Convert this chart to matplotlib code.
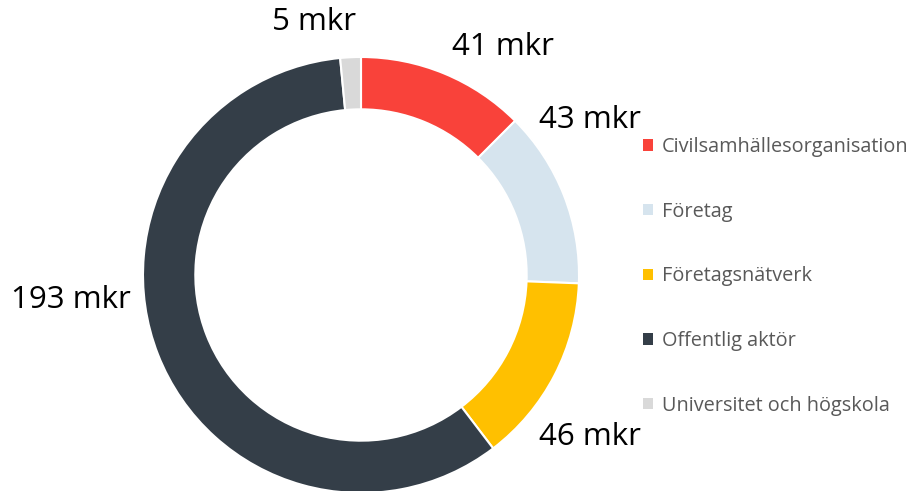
import matplotlib.pyplot as plt
from matplotlib.patches import Patch

# Belopp per aktörstyp (miljoner kronor)
kategorier = ['Civilsamhällesorganisation', 'Företag', 'Företagsnätverk',
              'Offentlig aktör', 'Universitet och högskola']
belopp = [41, 43, 46, 193, 5]
etiketter = ['41 mkr', '43 mkr', '46 mkr', '193 mkr', '5 mkr']
farger = ['#F9423A', '#D6E4EE', '#FFC000', '#343E48', '#D9D9D9']

# etikettplacering i axelkoordinater (radie 1 = ytterkant)
etikett_pos = [(0.65, 1.046), (1.05, 0.711), (1.05, -0.743), (-1.33, -0.115), (-0.215, 1.16)]

plt.rcParams['font.family'] = ['Open Sans', 'DejaVu Sans']

fig = plt.figure(figsize=(9.2, 4.91), dpi=100)
ax = fig.add_axes([143 / 920, -2 / 491, 436 / 920, 436 / 491])

ax.pie(belopp, colors=farger, startangle=90, counterclock=False, radius=1,
       wedgeprops=dict(width=0.24, edgecolor='white', linewidth=1.5))
ax.set_xlim(-1, 1)
ax.set_ylim(-1, 1)
ax.set_aspect('equal')
ax.axis('off')

for txt, (x, y) in zip(etiketter, etikett_pos):
    ax.text(x, y, txt, ha='center', va='center', fontsize=22.5, color='black',
            clip_on=False)

handles = [Patch(facecolor=c, edgecolor='none') for c in farger]
fig.legend(handles, kategorier, loc='center left', bbox_to_anchor=(625 / 920, 0.437),
           frameon=False, fontsize=14.3, labelcolor='#595959', handlelength=0.5,
           handleheight=0.5, handletextpad=0.45, labelspacing=2.25)

fig.savefig('out.png', dpi=100)
